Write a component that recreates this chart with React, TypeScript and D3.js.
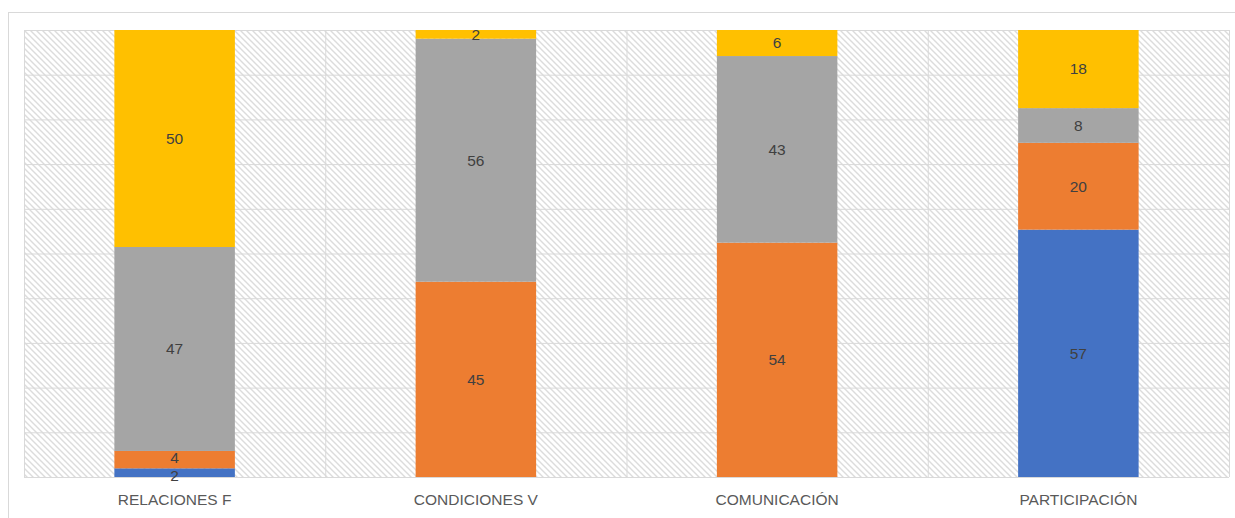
import React from "react";
import * as d3 from "d3";

const categories = ["RELACIONES F", "CONDICIONES V", "COMUNICACIÓN", "PARTICIPACIÓN"];
const seriesNames = ["S1", "S2", "S3", "S4"];
const s1 = [2, 0, 0, 57];
const s2 = [4, 45, 54, 20];
const s3 = [47, 56, 43, 8];
const s4 = [50, 2, 6, 18];
const seriesValues = [s1, s2, s3, s4];
const colors = ["#4472C4", "#ED7D31", "#A5A5A5", "#FFC000"];
const yTicks = [0, 0.1, 0.2, 0.3, 0.4, 0.5, 0.6, 0.7, 0.8, 0.9, 1];

const W = 1235, H = 518;
const left = 24, right = 1229, top = 30, bottom = 477;
const FONT = "'Liberation Sans', Arial, sans-serif";
const MIN_GAP = 18;

export default function App() {
  const x = d3.scaleBand<string>().domain(categories).range([left, right]).paddingInner(0.6).paddingOuter(0.3);
  const xBand = d3.scaleBand<string>().domain(categories).range([left, right]);
  const y = d3.scaleLinear().domain([0, 1]).range([bottom, top]);

  const rows = categories.map((c, i) => {
    const obj: any = { cat: c };
    seriesNames.forEach((s, j) => (obj[s] = seriesValues[j][i]));
    return obj;
  });
  const stack = d3.stack().keys(seriesNames).offset(d3.stackOffsetExpand);
  const stacked = stack(rows as any);

  // label positions; spread apart small adjacent ones symmetrically
  const labels: { key: string; x: number; y: number; v: number }[] = [];
  categories.forEach((c, i) => {
    const list: { j: number; cy: number; v: number }[] = [];
    stacked.forEach((layer, j) => {
      const v = seriesValues[j][i];
      if (v === 0) return;
      const d = layer[i];
      list.push({ j, cy: (y(d[0]) + y(d[1])) / 2, v });
    });
    for (let k = 0; k < list.length - 1; k++) {
      const a = list[k], b = list[k + 1];
      const gap = a.cy - b.cy;
      if (gap < MIN_GAP) {
        const mid = (a.cy + b.cy) / 2;
        a.cy = mid + MIN_GAP / 2;
        b.cy = mid - MIN_GAP / 2;
      }
    }
    list.forEach((l) =>
      labels.push({ key: l.j + "-" + i, x: (x(c) as number) + x.bandwidth() / 2, y: l.cy, v: l.v })
    );
  });

  return (
    <svg width={W} height={H} style={{ position: "absolute", left: 0, top: 0, display: "block" }}>
      <defs>
        <pattern id="hatch" width="6" height="6" patternUnits="userSpaceOnUse">
          <rect width="6" height="6" fill="#fff" />
          <path d="M-1,-1 L7,7 M-1,5 L1,7 M5,-1 L7,1" stroke="#dcdcdc" strokeWidth="1.4" />
        </pattern>
      </defs>
      <rect x={0} y={0} width={W} height={H} fill="#fff" />
      <rect x={8.5} y={12.5} width={W} height={H} fill="#fff" stroke="#d9d9d9" />
      <rect x={left} y={top} width={right - left} height={bottom - top} fill="url(#hatch)" />
      {yTicks.map((t) => (
        <line key={t} x1={left} x2={right} y1={y(t) + 0.5} y2={y(t) + 0.5} stroke="#d9d9d9" strokeWidth={1} />
      ))}
      {categories.map((c) => (
        <line key={c} x1={(xBand(c) as number) + 0.5} x2={(xBand(c) as number) + 0.5} y1={top} y2={bottom} stroke="#d9d9d9" />
      ))}
      <line x1={right + 0.5} x2={right + 0.5} y1={top} y2={bottom} stroke="#d9d9d9" />
      {stacked.map((layer, j) =>
        layer.map((d, i) => {
          const v = seriesValues[j][i];
          if (v === 0) return null;
          const y0 = y(d[0]), y1 = y(d[1]);
          return (
            <rect key={j + "-" + i} x={x(categories[i])} y={y1} width={x.bandwidth()} height={y0 - y1} fill={colors[j]} />
          );
        })
      )}
      {labels.map((l) => (
        <text key={"t" + l.key} x={l.x} y={l.y} dy="0.35em" textAnchor="middle" fontFamily={FONT} fontSize={15.5} fill="#404040">
          {l.v}
        </text>
      ))}
      {categories.map((c) => (
        <text key={"l" + c} x={(xBand(c) as number) + xBand.bandwidth() / 2} y={505} textAnchor="middle"
          fontFamily={FONT} fontSize={15.5} fill="#595959">
          {c}
        </text>
      ))}
    </svg>
  );
}
